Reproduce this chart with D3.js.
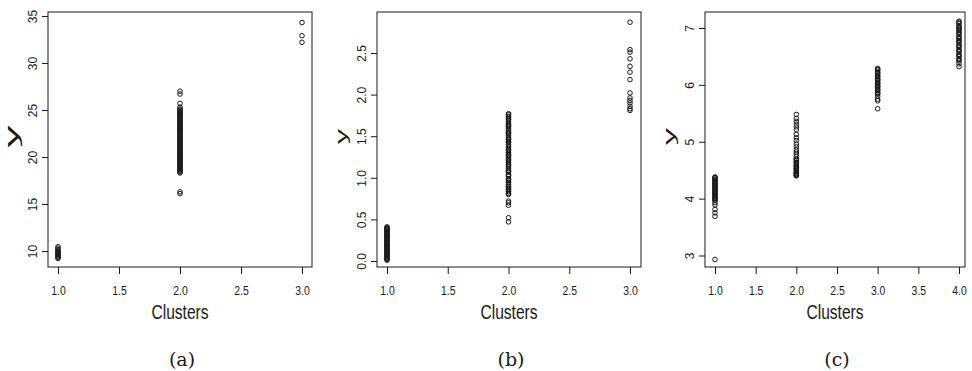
<!DOCTYPE html>
<html>
<head>
<meta charset="utf-8">
<script src="https://cdn.jsdelivr.net/npm/d3@7"></script>
<style>
  html, body { margin: 0; padding: 0; background: #fff; }
  svg { display: block; }
</style>
</head>
<body>
<svg id="chart" width="972" height="371"></svg>
<script>
// ---------------- DATA ----------------
// Panel (a): y values per cluster
const yA1 = [10.45, 10.3, 10.15, 10.0, 9.9, 9.8, 9.7, 9.6, 9.5, 9.4, 9.3, 9.2];
const yA2 = [27.0, 26.7, 25.7, 25.3, 25.1, 25.0, 24.9, 24.8, 24.7, 24.6, 24.5, 24.4, 24.3, 24.2, 24.1,
             24.0, 23.9, 23.8, 23.7, 23.6, 23.5, 23.4, 23.3, 23.2, 23.1, 23.0, 22.9, 22.8, 22.7, 22.6,
             22.5, 22.4, 22.3, 22.2, 22.1, 22.0, 21.9, 21.8, 21.7, 21.6, 21.5, 21.4, 21.3, 21.2, 21.1,
             21.0, 20.9, 20.8, 20.7, 20.6, 20.5, 20.4, 20.3, 20.2, 20.1, 20.0, 19.9, 19.8, 19.7, 19.6,
             19.5, 19.4, 19.3, 19.2, 19.1, 19.0, 18.9, 18.8, 18.7, 18.6, 18.5, 18.4, 18.3, 16.3, 16.1];
const yA3 = [34.3, 32.9, 32.2];

// Panel (b)
const yB1 = [0.41, 0.40, 0.39, 0.38, 0.37, 0.36, 0.35, 0.34, 0.33, 0.32, 0.31, 0.30, 0.29, 0.28,
             0.27, 0.26, 0.25, 0.24, 0.23, 0.22, 0.21, 0.20, 0.19, 0.18, 0.17, 0.16, 0.15, 0.14,
             0.13, 0.12, 0.11, 0.10, 0.09, 0.08, 0.07, 0.06, 0.05, 0.04, 0.03, 0.02, 0.01];
const yB2 = [1.77, 1.76, 1.74, 1.73, 1.71, 1.70, 1.68, 1.66, 1.64, 1.63, 1.62, 1.61, 1.59, 1.57,
             1.55, 1.54, 1.53, 1.51, 1.49, 1.47, 1.46, 1.44, 1.43, 1.42, 1.40, 1.38, 1.36, 1.34,
             1.33, 1.31, 1.30, 1.28, 1.27, 1.26, 1.24, 1.22, 1.21, 1.19, 1.18, 1.16, 1.15, 1.13,
             1.11, 1.09, 1.08, 1.07, 1.04, 1.03, 1.02, 0.99, 0.98, 0.97, 0.95, 0.94, 0.92, 0.90,
             0.89, 0.87, 0.86, 0.84, 0.83, 0.81, 0.80, 0.72, 0.70, 0.67, 0.52, 0.47];
const yB3 = [2.87, 2.54, 2.51, 2.43, 2.34, 2.27, 2.18, 2.02, 1.96, 1.93, 1.90, 1.86, 1.83, 1.81];

// Panel (c)
const yC1 = [4.38, 4.37, 4.36, 4.34, 4.33, 4.31, 4.29, 4.28, 4.26, 4.25, 4.23, 4.21, 4.20, 4.18,
             4.16, 4.15, 4.13, 4.11, 4.10, 4.08, 4.06, 4.05, 4.02, 4.01, 4.00, 3.98, 3.97, 3.93,
             3.89, 3.81, 3.75, 3.69, 2.93];
const yC2 = [5.48, 5.41, 5.36, 5.31, 5.26, 5.21, 5.13, 5.07, 5.02, 4.96, 4.91, 4.86, 4.82, 4.78,
             4.74, 4.70, 4.69, 4.67, 4.64, 4.63, 4.61, 4.58, 4.57, 4.55, 4.53, 4.52, 4.50, 4.48,
             4.47, 4.45, 4.44, 4.43, 4.42, 4.41, 4.40];
const yC3 = [6.29, 6.27, 6.26, 6.23, 6.21, 6.20, 6.17, 6.15, 6.14, 6.11, 6.09, 6.08, 6.05, 6.03,
             6.02, 5.99, 5.97, 5.96, 5.93, 5.91, 5.90, 5.87, 5.85, 5.84, 5.80, 5.75, 5.72, 5.58];
const yC4 = [7.12, 7.10, 7.08, 7.04, 7.02, 7.00, 6.98, 6.96, 6.93, 6.91, 6.89, 6.85, 6.83, 6.81,
             6.78, 6.76, 6.74, 6.70, 6.68, 6.66, 6.62, 6.60, 6.58, 6.54, 6.52, 6.50, 6.46, 6.44,
             6.42, 6.37, 6.32];

// Tick values
const xTicksAB = [1.0, 1.5, 2.0, 2.5, 3.0];
const xTicksC  = [1.0, 1.5, 2.0, 2.5, 3.0, 3.5, 4.0];
const yTicksA  = [10, 15, 20, 25, 30, 35];
const yTicksB  = [0.0, 0.5, 1.0, 1.5, 2.0, 2.5];
const yTicksC  = [3, 4, 5, 6, 7];

const xLabel = "Clusters";
const yLabel = "y";
const captions = ["(a)", "(b)", "(c)"];

// --------------- LAYOUT ----------------
const panels = [
  { clusters: [yA1, yA2, yA3], box: [48, 12, 312, 267],
    xr: [58, 302], xd: [1, 3], yr: [251, 16], yd: [10, 35],
    xt: xTicksAB, yt: yTicksA, yfmt: d3.format("d"), ylab: {dx: -33, sx: 2.2, sy: 0.95} },
  { clusters: [yB1, yB2, yB3], box: [377, 12, 641, 267],
    xr: [387, 630], xd: [1, 3], yr: [261, 53], yd: [0, 2.5],
    xt: xTicksAB, yt: yTicksB, yfmt: d3.format(".1f"), ylab: {dx: -33, sx: 1.5, sy: 0.82} },
  { clusters: [yC1, yC2, yC3, yC4], box: [705, 12, 965, 267],
    xr: [715, 959], xd: [1, 4], yr: [255.5, 28], yd: [3, 7],
    xt: xTicksC, yt: yTicksC, yfmt: d3.format("d"), ylab: {dx: -33, sx: 1.7, sy: 0.82} }
];

const svg = d3.select("#chart");
const ink = "#1a1a1a";
const sans = "'Liberation Sans', Arial, sans-serif";

panels.forEach((p, i) => {
  const [x0, y0, x1, y1] = p.box;
  const x = d3.scaleLinear().domain(p.xd).range(p.xr);
  const y = d3.scaleLinear().domain(p.yd).range(p.yr);
  const g = svg.append("g");

  // x axis
  const gx = g.append("g").attr("transform", `translate(0,${y1})`)
    .call(d3.axisBottom(x).tickValues(p.xt).tickFormat(d3.format(".1f")).tickSize(7).tickSizeOuter(0));
  gx.select(".domain").remove();
  gx.selectAll(".tick line").attr("stroke", ink);
  gx.selectAll(".tick text").attr("y", 0).attr("dy", 0)
    .attr("transform", "translate(0,27.5) scale(0.8,1)")
    .attr("font-family", sans).attr("font-size", 13).attr("fill", ink);

  // y axis
  const gy = g.append("g").attr("transform", `translate(${x0},0)`)
    .call(d3.axisLeft(y).tickValues(p.yt).tickFormat(p.yfmt).tickSize(6).tickSizeOuter(0));
  gy.select(".domain").remove();
  gy.selectAll(".tick line").attr("stroke", ink);
  gy.selectAll(".tick text").attr("x", 0).attr("dy", 0)
    .attr("text-anchor", "middle")
    .attr("transform", "translate(-11,0) rotate(-90)")
    .attr("font-family", sans).attr("font-size", 12).attr("fill", ink);

  // box
  g.append("rect").attr("x", x0).attr("y", y0).attr("width", x1 - x0).attr("height", y1 - y0)
    .attr("fill", "none").attr("stroke", ink).attr("stroke-width", 1);

  // points
  p.clusters.forEach((vals, ci) => {
    g.append("g").selectAll("circle").data(vals).join("circle")
      .attr("cx", x(ci + 1)).attr("cy", d => y(d)).attr("r", 2.3)
      .attr("fill", "none").attr("stroke", ink).attr("stroke-width", 1);
  });

  const cx = (x0 + x1) / 2;
  // x label
  g.append("text").attr("transform", `translate(${cx},319) scale(0.78,1)`).attr("text-anchor", "middle")
    .attr("font-family", sans).attr("font-size", 20).attr("fill", ink).text(xLabel);
  // y label
  const ly = (y0 + y1) / 2 - 3;
  g.append("text").attr("transform", `translate(${x0 + p.ylab.dx},${ly}) rotate(-90) scale(${p.ylab.sx},${p.ylab.sy})`)
    .attr("text-anchor", "middle").attr("dy", "0.16em")
    .attr("font-family", sans).attr("font-size", 20).attr("fill", ink).text(yLabel);
  // caption
  g.append("text").attr("x", cx + 2).attr("y", 366).attr("text-anchor", "middle")
    .attr("font-family", "'DejaVu Serif', serif").attr("font-size", 19).attr("fill", ink).text(captions[i]);
});
</script>
</body>
</html>
